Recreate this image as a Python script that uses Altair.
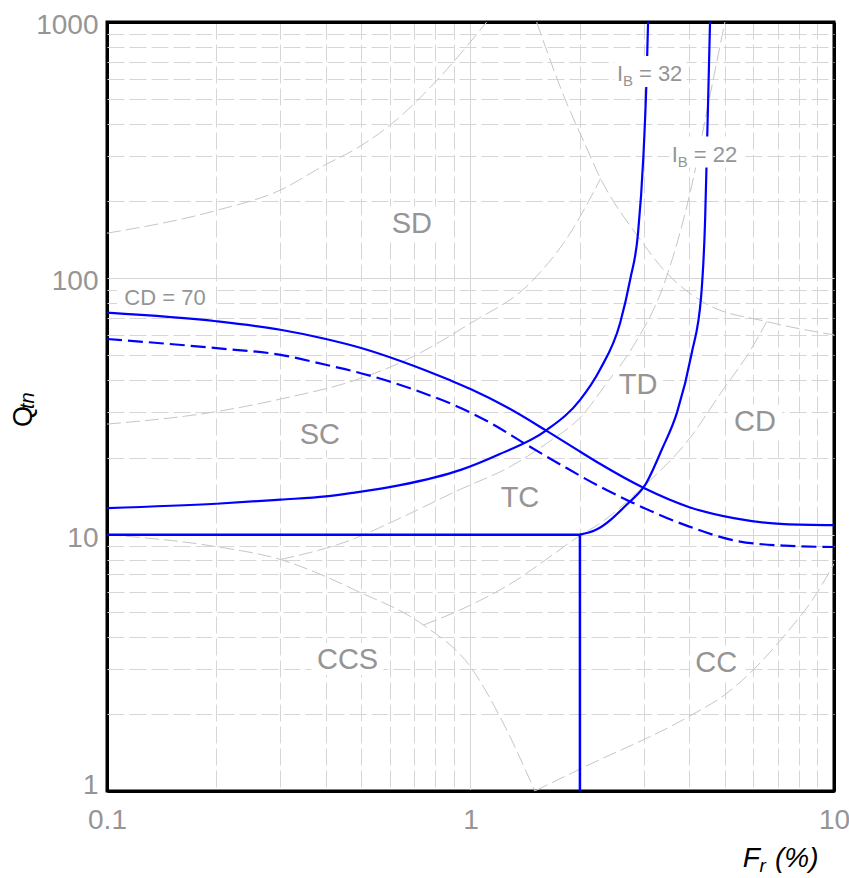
import altair as alt
import pandas as pd

# ---------------- data ----------------
# axis ticks (decades are labelled, the rest are minor grid lines)
fr_ticks = [0.1, 0.2, 0.3, 0.4, 0.5, 0.6, 0.7, 0.8, 0.9,
            1, 2, 3, 4, 5, 6, 7, 8, 9, 10]
fr_labels = [0.1, 1, 10]
q_ticks = [1, 2, 3, 4, 5, 6, 7, 8, 9,
           10, 20, 30, 40, 50, 60, 70, 80, 90,
           100, 200, 300, 400, 500, 600, 700, 800, 900, 1000]
q_labels = [1, 10, 100, 1000]

# grey zone boundaries (background SBT chart)
b1_fr = [0.1, 0.2, 0.3, 0.4, 0.48, 0.61, 0.81, 1.108]
b1_q = [150, 184, 221, 278, 318, 403, 594, 1000]
b2_fr = [0.1, 0.2, 0.3, 0.48, 0.65, 1.0, 1.46, 1.88, 2.28]
b2_q = [27, 30.2, 33.8, 40, 47.3, 66.8, 96, 150, 245]
b3_fr = [1.52, 1.84, 2.04, 2.28, 2.89, 3.47, 4.42, 6.53, 10]
b3_q = [1000, 482, 347, 245, 145.5, 104.7, 80, 67.8, 60.2]
b4_fr = [0.3, 0.466, 0.64, 0.935, 1.284, 1.62, 2.02, 2.37, 2.8, 3.44, 4.15, 4.42, 5.01]
b4_q = [8.0, 9.5, 11.6, 15, 18.4, 22.7, 29, 39, 54.2, 98.7, 265, 415, 1000]
b5_fr = [0.1, 0.2, 0.3, 0.4, 0.48, 0.742, 1.0, 1.205, 1.503]
b5_q = [10, 8.98, 8.0, 6.86, 6.09, 4.44, 3.05, 1.95, 1]
b6_fr = [0.742, 0.935, 1.34, 1.654, 2.04, 2.2, 2.99, 4.03, 4.9, 5.87, 6.53]
b6_q = [4.44, 5.08, 6.66, 8.2, 10.1, 10.75, 15.4, 24, 36, 52, 67.8]
b7_fr = [1.503, 2.03, 4.06, 5.0, 6.0, 7.26, 8.96, 10]
b7_q = [1, 1.23, 1.98, 2.37, 2.97, 4.0, 5.9, 7.7]

# blue boundaries
cd70_fr = [0.1, 0.2, 0.3, 0.4, 0.5, 0.65, 0.88, 1.0, 1.26, 1.62, 2.0, 2.27, 3.0, 4.0, 5.3, 7.3, 10]
cd70_q = [73.5, 68, 63, 58, 53.5, 47.3, 40, 37, 31.4, 25.4, 21.1, 18.9, 15.2, 12.8, 11.6, 11.0, 10.9]
cdlow_fr = [0.1, 0.2, 0.3, 0.4, 0.48, 0.71, 0.94, 1.15, 1.4, 1.8, 2.27, 2.8, 4.0, 5.3, 7.3, 10]
cdlow_q = [58, 53.4, 50.3, 46, 43.3, 36.5, 31.2, 27, 22.8, 18.5, 15.4, 13.3, 10.75, 9.5, 9.06, 8.95]
ib32_fr = [0.1, 0.2, 0.3, 0.4, 0.48, 0.64, 0.94, 1.2, 1.62, 2.0, 2.27, 2.58, 2.75, 2.89, 2.99, 3.05, 3.08]
ib32_q = [12.7, 13.2, 13.7, 14.1, 14.6, 15.6, 17.9, 20.6, 25.6, 33.5, 44, 67, 99, 150, 300, 600, 1000]
ib22_fr = [2.0, 2.2, 2.72, 3.02, 3.36, 3.7, 4.06, 4.31, 4.42, 4.48, 4.56]
ib22_q = [10, 10.4, 13.3, 15.6, 21.5, 30, 51, 85, 169, 357, 1000]
limit_fr = [0.1, 2.0, 2.0]
limit_q = [10, 10, 1]

# zone labels
zone_names = ["SD", "SC", "TD", "CD", "TC", "CCS", "CC"]
zone_fr = [0.69, 0.385, 2.89, 6.06, 1.368, 0.459, 4.74]
zone_q = [165, 24.7, 38.7, 27.8, 14.0, 3.27, 3.20]
zone_box_w = [51, 50, 50, 54, 50, 72, 52]

ib_values = ["= 32", "= 22"]
ib_fr = [3.128, 4.426]
ib_q = [641.6, 311.3]

cd_label = "CD = 70"
cd_label_fr = 0.1444
cd_label_q = 84.8

# ---------------- styling ----------------
FONT = "Liberation Sans"
LABEL = "#959595"
GRID = "#d6d6d6"
ZONE = "#c6c6c6"
BLUE = "#0000ff"


def frame(curves):
    rows = []
    for name, fr, q in curves:
        for i, (f, v) in enumerate(zip(fr, q)):
            rows.append({"curve": name, "i": i, "Fr": f, "Qtn": v})
    return pd.DataFrame(rows)


def box_frame(fr, q, widths, heights, texts):
    rows = []
    for f, v, w, h, t in zip(fr, q, widths, heights, texts):
        r = h / w
        rows.append({"Fr": f, "Qtn": v, "label": t,
                     "path": f"M-1,{-r:.4f}H1V{r:.4f}H-1Z", "area": w * w})
    return pd.DataFrame(rows)


x_major = "indexof([0.1, 1, 10], datum.value) >= 0"
y_major = "indexof([1, 10, 100, 1000], datum.value) >= 0"
x_edge = "datum.value == 0.1 || datum.value == 10"
y_edge = "datum.value == 1 || datum.value == 1000"

x_scale = alt.Scale(type="log", domain=[0.1, 10], nice=False)
y_scale = alt.Scale(type="log", domain=[1, 1000], nice=False)


def log_axis(values, major, edge, padding, **extra):
    return alt.Axis(
        values=values, format="~g",
        labelExpr=f"{major} ? datum.label : ''",
        grid=True,
        gridColor={"condition": {"test": edge, "value": "black"}, "value": GRID},
        gridWidth={"condition": {"test": edge, "value": 3}, "value": 1},
        gridDash={"condition": {"test": major, "value": []}, "value": [17, 5]},
        domain=False, ticks=False, tickSize=0,
        labelFont=FONT, labelFontSize=28, labelColor=LABEL,
        labelPadding=padding, labelFlush=False, labelOverlap=False, title=None,
        **extra,
    )


x_axis = log_axis(fr_ticks, x_major, x_edge, 15)
y_axis = log_axis(q_ticks, y_major, y_edge, 9,
                  labelOffset={"condition": {"test": "datum.value == 1", "value": -5.5}, "value": 3.5})

X = alt.X("Fr:Q", scale=x_scale, axis=x_axis)
Y = alt.Y("Qtn:Q", scale=y_scale, axis=y_axis)


def lines(df, color, width, dash=None, interp="monotone"):
    kw = dict(color=color, strokeWidth=width, interpolate=interp, clip=True)
    if dash:
        kw["strokeDash"] = dash
    return alt.Chart(df).mark_line(**kw).encode(
        x=X, y=Y, detail="curve:N", order="i:Q")


zones = frame([("b1", b1_fr, b1_q), ("b2", b2_fr, b2_q), ("b3", b3_fr, b3_q),
               ("b4", b4_fr, b4_q), ("b5", b5_fr, b5_q), ("b6", b6_fr, b6_q),
               ("b7", b7_fr, b7_q)])
solid = frame([("cd70", cd70_fr, cd70_q), ("ib32", ib32_fr, ib32_q),
               ("ib22", ib22_fr, ib22_q)])
dashed = frame([("cdlow", cdlow_fr, cdlow_q)])
limits = frame([("limit", limit_fr, limit_q)])

zone_layer = lines(zones, ZONE, 1, dash=[14, 5])
blue_layer = lines(solid, BLUE, 2.2)
blue_dash_layer = lines(dashed, BLUE, 2.2, dash=[15, 6])
limit_layer = lines(limits, BLUE, 2.5, interp="linear")

# white boxes behind the annotations
boxes = pd.concat([
    box_frame(zone_fr, zone_q, zone_box_w, [32] * len(zone_names), zone_names),
    box_frame(ib_fr, ib_q, [72, 72], [31, 31], ib_values),
    box_frame([cd_label_fr], [cd_label_q], [96], [28], [cd_label]),
], ignore_index=True)
box_layer = alt.Chart(boxes).mark_point(
    filled=True, color="white", opacity=1, strokeWidth=0
).encode(x=X, y=Y, shape=alt.Shape("path:N", scale=None),
         size=alt.Size("area:Q", scale=None))

zone_text = alt.Chart(pd.DataFrame({"Fr": zone_fr, "Qtn": zone_q, "label": zone_names})).mark_text(
    font=FONT, fontSize=29, color=LABEL, align="center", baseline="alphabetic", dy=10
).encode(x=X, y=Y, text="label:N")

cd_text = alt.Chart(pd.DataFrame({"Fr": [cd_label_fr], "Qtn": [cd_label_q], "label": [cd_label]})).mark_text(
    font=FONT, fontSize=22, color=LABEL, align="center", baseline="alphabetic", dy=8
).encode(x=X, y=Y, text="label:N")

ib_df = pd.DataFrame({"Fr": ib_fr, "Qtn": ib_q, "label": ib_values})
ib_i = alt.Chart(ib_df).mark_text(
    text="I", font=FONT, fontSize=22, color=LABEL, align="left", baseline="alphabetic", dx=-33.5, dy=10
).encode(x=X, y=Y)
ib_b = alt.Chart(ib_df).mark_text(
    text="B", font=FONT, fontSize=15, color=LABEL, align="left", baseline="alphabetic", dx=-27.5, dy=15
).encode(x=X, y=Y)
ib_eq = alt.Chart(ib_df).mark_text(
    font=FONT, fontSize=22, color=LABEL, align="left", baseline="alphabetic", dx=-11.6, dy=10
).encode(x=X, y=Y, text="label:N")

# axis titles with subscripts
one = pd.DataFrame({"k": [0]})
t_F = alt.Chart(one).mark_text(text="F", font=FONT, fontSize=28, fontStyle="italic", color="black",
                               align="left", baseline="alphabetic").encode(x=alt.value(635.7), y=alt.value(845))
t_r = alt.Chart(one).mark_text(text="r", font=FONT, fontSize=19, fontStyle="italic", color="black",
                               align="left", baseline="alphabetic").encode(x=alt.value(652.5), y=alt.value(850))
t_pct = alt.Chart(one).mark_text(text="(%)", font=FONT, fontSize=28, fontStyle="italic", color="black",
                                 align="left", baseline="alphabetic").encode(x=alt.value(668), y=alt.value(845))
t_Q = alt.Chart(one).mark_text(text="Q", font=FONT, fontSize=27, color="black", angle=270,
                               align="left", baseline="alphabetic").encode(x=alt.value(-75.5), y=alt.value(405))
t_tn = alt.Chart(one).mark_text(text="tn", font=FONT, fontSize=20, fontStyle="italic", color="black", angle=270,
                                align="left", baseline="alphabetic").encode(x=alt.value(-73), y=alt.value(387))

chart = alt.layer(
    zone_layer, blue_layer, blue_dash_layer, limit_layer,
    box_layer, zone_text, cd_text, ib_i, ib_b, ib_eq,
    t_F, t_r, t_pct, t_Q, t_tn,
).properties(
    width=727, height=769,
    autosize=alt.AutoSizeParams(type="none"),
    padding={"left": 107, "top": 22, "right": 15, "bottom": 87},
    background="white",
).configure_view(stroke="black", strokeWidth=3)

chart.save("out.html", embed_options={"renderer": "svg", "actions": False})
